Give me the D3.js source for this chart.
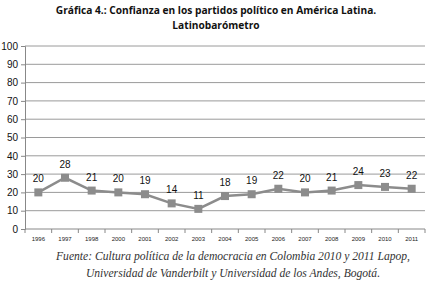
<!DOCTYPE html>
<html>
<head>
<meta charset="utf-8">
<script src="https://cdn.jsdelivr.net/npm/d3@7"></script>
<style>
  body { margin: 0; background: #fff; }
</style>
</head>
<body>
<div id="chart"></div>
<script>
// chart data
const years = ['1996', '1997', '1998', '2000', '2001', '2002', '2003', '2004',
               '2005', '2006', '2007', '2008', '2009', '2010', '2011'];
const confianza = [20, 28, 21, 20, 19, 14, 11, 18, 19, 22, 20, 21, 24, 23, 22];
const yTicks = [0, 10, 20, 30, 40, 50, 60, 70, 80, 90, 100];

const width = 431, height = 307;
const margin = {top: 46, right: 6, bottom: 78, left: 25};
const innerW = width - margin.left - margin.right;
const innerH = height - margin.top - margin.bottom;

const svg = d3.select('#chart').append('svg')
    .attr('width', width)
    .attr('height', height);

// title
const title = svg.append('text')
    .attr('text-anchor', 'middle')
    .style('font-family', '"Open Sans", sans-serif')
    .style('font-weight', 'bold')
    .style('font-size', '10.2px')
    .attr('fill', '#111');
title.append('tspan').attr('x', 216).attr('y', 14)
    .text('Gráfica 4.: Confianza en los partidos político en América Latina.');
title.append('tspan').attr('x', 216).attr('y', 29)
    .text('Latinobarómetro');

const chart = svg.append('g')
    .attr('transform', `translate(${margin.left},${margin.top})`);

const x = d3.scaleBand().domain(years).range([0, innerW]);
const y = d3.scaleLinear().domain([0, 100]).range([innerH, 0]);

// gridlines
chart.selectAll('.grid')
    .data(yTicks.filter(d => d > 0))
    .join('line')
    .attr('class', 'grid')
    .attr('x1', 0).attr('x2', innerW)
    .attr('y1', d => y(d)).attr('y2', d => y(d))
    .attr('stroke', '#9a9a9a')
    .attr('stroke-width', 1);

// y axis
const yAxis = d3.axisLeft(y).tickValues(yTicks).tickSize(4).tickPadding(3);
const yAxisG = chart.append('g').call(yAxis);
yAxisG.select('.domain').attr('stroke', '#888');
yAxisG.selectAll('.tick line').attr('stroke', '#888');
yAxisG.selectAll('text')
    .style('font-family', '"Liberation Sans", sans-serif')
    .style('font-size', '10px')
    .attr('fill', '#111');

// x axis: ticks between categories
const xAxisG = chart.append('g').attr('transform', `translate(0,${innerH})`);
xAxisG.append('line')
    .attr('x1', 0).attr('x2', innerW)
    .attr('stroke', '#888');
xAxisG.selectAll('.xtick')
    .data(years.concat(['end']))
    .join('line')
    .attr('class', 'xtick')
    .attr('x1', (d, i) => i < years.length ? x(d) : innerW)
    .attr('x2', (d, i) => i < years.length ? x(d) : innerW)
    .attr('y1', 0).attr('y2', 4)
    .attr('stroke', '#888');
xAxisG.selectAll('.xlabel')
    .data(years)
    .join('text')
    .attr('class', 'xlabel')
    .attr('x', d => x(d) + x.bandwidth() / 2)
    .attr('y', 12)
    .attr('text-anchor', 'middle')
    .style('font-family', '"Liberation Sans", sans-serif')
    .style('font-size', '6px')
    .attr('fill', '#222')
    .text(d => d);

// line
const line = d3.line()
    .x((d, i) => x(years[i]) + x.bandwidth() / 2)
    .y(d => y(d));

chart.append('path')
    .datum(confianza)
    .attr('d', line)
    .attr('fill', 'none')
    .attr('stroke', '#8c8c8c')
    .attr('stroke-width', 2.5);

// markers
chart.selectAll('.marker')
    .data(confianza)
    .join('rect')
    .attr('class', 'marker')
    .attr('x', (d, i) => x(years[i]) + x.bandwidth() / 2 - 4)
    .attr('y', d => y(d) - 4)
    .attr('width', 8)
    .attr('height', 8)
    .attr('fill', '#8c8c8c');

// value labels
chart.selectAll('.val')
    .data(confianza)
    .join('text')
    .attr('class', 'val')
    .attr('x', (d, i) => x(years[i]) + x.bandwidth() / 2)
    .attr('y', d => y(d) - 10)
    .attr('text-anchor', 'middle')
    .style('font-family', '"Liberation Sans", sans-serif')
    .style('font-size', '10px')
    .attr('fill', '#111')
    .text(d => d);

// source note
const note = svg.append('text')
    .attr('text-anchor', 'middle')
    .style('font-family', '"Liberation Serif", serif')
    .style('font-style', 'italic')
    .style('font-size', '11.6px')
    .attr('fill', '#333');
note.append('tspan').attr('x', 233).attr('y', 260)
    .text('Fuente: Cultura política de la democracia en Colombia 2010 y 2011 Lapop,');
note.append('tspan').attr('x', 233).attr('y', 277)
    .text('Universidad de Vanderbilt y Universidad de los Andes, Bogotá.');
</script>
</body>
</html>
